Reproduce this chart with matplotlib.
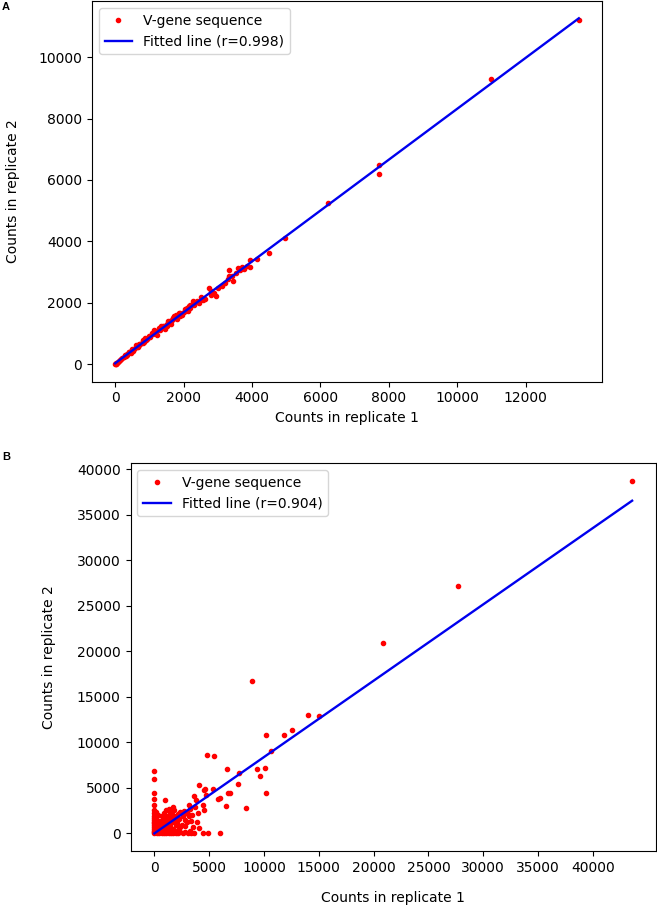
import matplotlib
matplotlib.use('Agg')
import matplotlib.pyplot as plt
import numpy as np

# panel A: replicate counts
rep1_a = [13550, 10970, 7710, 7700, 6215, 4955, 4507, 4146, 3951, 3931, 3853, 3707, 3579,
          3337, 3317, 3288, 3444, 3219, 2732, 2878, 2956, 2634, 2390, 2292, 2195, 2117,
          1999, 1882, 1786, 1755, 1659, 1589, 1414, 1268, 1170, 1024, 926, 829, 731, 635,
          536, 439, 341, 244, 146, 49, 0, 12, 23,
          1335, 1509, 1451, 1138, 1219, 1080, 987, 882, 801, 697, 604, 522, 406, 302, 209,
          104, 70, 1858, 1950, 2032, 1683, 1625, 2264, 2438, 2496, 2554, 2810, 3019, 3135,
          3425, 3541, 3657, 3773, 2786, 2148, 1800, 1718, 1300, 1533, 813, 673, 464, 348,
          174, 35,
          600, 900, 1200, 1500, 1800, 2100, 2400, 700, 1000, 1300, 1600, 1900, 2200, 400,
          300, 500, 800, 1100, 1400, 1700]
rep2_a = [11210, 9290, 6480, 6200, 5239, 4118, 3605, 3431, 3408, 3170, 3212, 3170, 3137,
          3059, 2863, 2778, 2699, 2647, 2484, 2320, 2232, 2124, 2013, 1938, 1830, 1742,
          1686, 1578, 1611, 1503, 1448, 1359, 1229, 1176, 1065, 902, 817, 739, 663, 575,
          490, 412, 304, 229, 141, 52, 0, 5, 30,
          1250, 1230, 1140, 1120, 950, 1000, 930, 860, 700, 640, 610, 440, 390, 260, 200,
          110, 60, 1680, 1590, 1800, 1520, 1300, 2050, 1980, 2200, 2080, 2380, 2480, 2550,
          2880, 2960, 3080, 3100, 2260, 1880, 1480, 1580, 1100, 1400, 780, 560, 380, 340,
          160, 20,
          560, 800, 1060, 1320, 1560, 1820, 2060, 650, 900, 1160, 1420, 1680, 1930, 390,
          300, 480, 740, 990, 1250, 1500]

# panel B
rep1_b = [43580, 27720, 20830, 8930, 14000, 14980, 12580, 11780, 10140, 10660, 4780, 5480,
          6610, 7760, 9380, 10050, 9590, 7610, 10140, 8380, 6490, 6710, 6900, 5940, 5820,
          5330, 4570, 4640, 4050, 4720, 4470, 4570, 3960, 3810, 3650, 3140, 3040, 1370,
          1670, 1000,
          0, 0, 0, 0, 0, 0, 0, 0, 0, 0, 0, 0, 0, 0, 0, 0, 0, 0,
          110, 160, 90, 220, 130,
          320, 220, 430, 540, 650, 750, 860, 970, 1080, 1190, 1290, 1400, 1510, 1620, 1720,
          1830, 1940, 2050, 2160, 2260, 2370, 2480, 2590, 2700, 2800, 2910, 3130, 3230,
          3450, 3670, 430, 650, 860, 1080, 320, 540, 750, 1190, 1400, 1620, 1830, 270, 380,
          160, 970, 1290, 1940, 2160, 2370, 2800, 3020, 3340, 3560, 3880, 4100,
          220, 430, 650, 860, 1080, 1290, 1510, 1720, 1940, 2160, 2590, 3040, 3350, 3650,
          4410, 4870, 5940, 1620, 2370, 2800, 3230]
rep2_b = [38770, 27190, 20970, 16740, 13020, 12920, 11350, 10810, 10810, 9100, 8620, 8550,
          7020, 6660, 7020, 7170, 6260, 5390, 4480, 2840, 2980, 4420, 4420, 3900, 3750,
          4910, 4730, 4840, 5280, 4260, 3090, 2550, 2290, 3640, 4110, 3090, 2180, 2730,
          2930, 3640,
          6810, 6000, 4480, 3820, 3090, 2550, 2200, 1950, 1700, 1500, 1300, 1100, 900, 700,
          500, 300, 150, 0,
          2300, 1800, 1200, 1000, 600,
          300, 150, 600, 250, 900, 450, 1200, 700, 350, 1000, 1400, 800, 1700, 1200, 500,
          1500, 1900, 1100, 2100, 1600, 2300, 900, 1900, 2500, 1500, 2300, 1900, 2700,
          2000, 2900, 1400, 1900, 2200, 2600, 2000, 1100, 1600, 1900, 2400, 2100, 2600, 800,
          1200, 400, 1500, 600, 900, 400, 700, 800, 1200, 1400, 700, 1300, 600,
          0, 0, 0, 0, 0, 0, 0, 0, 0, 0, 0, 0, 0, 0,
          0, 0, 0, 100, 150, 200, 250]

# fitted lines (slope, intercept) and r labels
fit_a = (0.829, 30)
fit_b = (0.839, 0)
r_a = 0.998
r_b = 0.904

fig = plt.figure(figsize=(6.57, 9.14), dpi=100)
axA = fig.add_axes([92 / 657, 1 - 381.5 / 914, 510 / 657, 380.5 / 914])
axB = fig.add_axes([130.5 / 657, 1 - 851 / 914, 525.5 / 657, 388 / 914])

for ax, x, y, fit, r in [(axA, rep1_a, rep2_a, fit_a, r_a), (axB, rep1_b, rep2_b, fit_b, r_b)]:
    ax.plot(x, y, 'r.', markersize=6, label='V-gene sequence')
    xs = np.array([min(x), max(x)])
    ax.plot(xs, fit[0] * xs + fit[1], color='#0000ee', linewidth=1.7,
            label='Fitted line (r=%.3f)' % r)
    ax.legend(loc='upper left', fontsize=10)
    ax.tick_params(labelsize=10)

axA.set_xlabel('Counts in replicate 1', fontsize=10, labelpad=4)
axA.set_ylabel('Counts in replicate 2', fontsize=10, labelpad=13)
axB.set_xlabel('Counts in replicate 1', fontsize=10, labelpad=12)
axB.set_ylabel('Counts in replicate 2', fontsize=10, labelpad=15)

axA.set_xticks([0, 2000, 4000, 6000, 8000, 10000, 12000])
axA.set_yticks([0, 2000, 4000, 6000, 8000, 10000])
axB.set_xticks(np.arange(0, 40001, 5000))
axB.set_yticks(np.arange(0, 40001, 5000))

fig.text(6 / 657, 1 - 7 / 914, 'A', fontsize=8, fontweight='bold', ha='center', va='center',
         family='Liberation Sans')
fig.text(6 / 657, 1 - 457 / 914, 'B', fontsize=8, fontweight='bold', ha='center', va='center',
         family='Liberation Sans')

fig.savefig('out.png', dpi=100)
